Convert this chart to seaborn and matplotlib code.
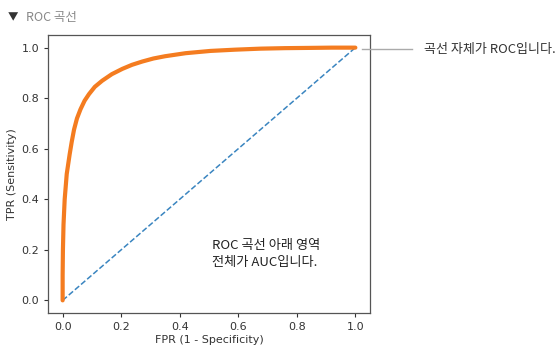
import matplotlib
matplotlib.use("Agg")
import matplotlib.pyplot as plt
import seaborn as sns
import pandas as pd

fpr = [0.0, 0.0, 0.001, 0.003, 0.007, 0.014, 0.024, 0.031, 0.039, 0.049, 0.061,
       0.075, 0.090, 0.110, 0.135, 0.168, 0.204, 0.237, 0.272, 0.31, 0.35, 0.42,
       0.505, 0.59, 0.676, 0.76, 0.846, 0.92, 1.0]
tpr = [0.0, 0.1, 0.2, 0.3, 0.4, 0.5, 0.578, 0.627, 0.676, 0.72, 0.756,
       0.79, 0.816, 0.845, 0.869, 0.895, 0.916, 0.932, 0.945, 0.957, 0.966, 0.978,
       0.987, 0.992, 0.996, 0.998, 0.999, 1.0, 1.0]
diag = [0.0, 1.0]

callout_text = "곡선 자체가 ROC입니다."
auc_text = "ROC 곡선 아래 영역\n전체가 AUC입니다."
xlabel = "FPR (1 - Specificity)"
ylabel = "TPR (Sensitivity)"

plt.rcParams['font.family'] = ['DejaVu Sans', 'Noto Sans CJK KR']
KR = ['Noto Sans CJK KR', 'DejaVu Sans']

fig = plt.figure(figsize=(5.58, 3.57), dpi=100)
ax = fig.add_axes([48/558, 1-313/357, 322/558, 278/357])

df = pd.DataFrame({"fpr": fpr, "tpr": tpr})
dd = pd.DataFrame({"x": diag, "y": diag})
sns.lineplot(data=dd, x="x", y="y", ax=ax, color="#3a85c0", linestyle="--",
             linewidth=1.1, sort=False, estimator=None)
sns.lineplot(data=df, x="fpr", y="tpr", ax=ax, color="#f47c20", linewidth=3.0,
             sort=False, estimator=None, solid_capstyle="round",
             solid_joinstyle="round")

ax.set_xlim(-0.05, 1.05)
ax.set_ylim(-0.05, 1.05)
ax.set_xticks([0, 0.2, 0.4, 0.6, 0.8, 1.0])
ax.set_yticks([0, 0.2, 0.4, 0.6, 0.8, 1.0])
ax.set_xticklabels(["0.0", "0.2", "0.4", "0.6", "0.8", "1.0"])
ax.set_yticklabels(["0.0", "0.2", "0.4", "0.6", "0.8", "1.0"])
ax.tick_params(labelsize=8, colors="#333333", length=3)
ax.set_xlabel(xlabel, fontsize=8, color="#333333", labelpad=2)
ax.set_ylabel(ylabel, fontsize=8, color="#333333", labelpad=3)
for s in ax.spines.values():
    s.set_color("#555555")
    s.set_linewidth(0.9)

fig.text(8/558, 1-17/357, "▼", fontsize=7.5, color="#333333", va="center", family=KR)
fig.text(26/558, 1-17/357, "ROC 곡선", fontsize=9, color="#888888", va="center", family=KR)
fig.add_artist(plt.Line2D([362/558, 412/558], [1-49/357, 1-49/357], color="#aaaaaa", lw=1))
fig.text(424/558, 1-49/357, callout_text, fontsize=9.4, color="#333333", va="center", family=KR)
fig.text(212/558, 1-254/357, auc_text, fontsize=9.5, color="#222222", va="center",
         linespacing=1.45, family=KR)

fig.savefig("out.png", dpi=100)
